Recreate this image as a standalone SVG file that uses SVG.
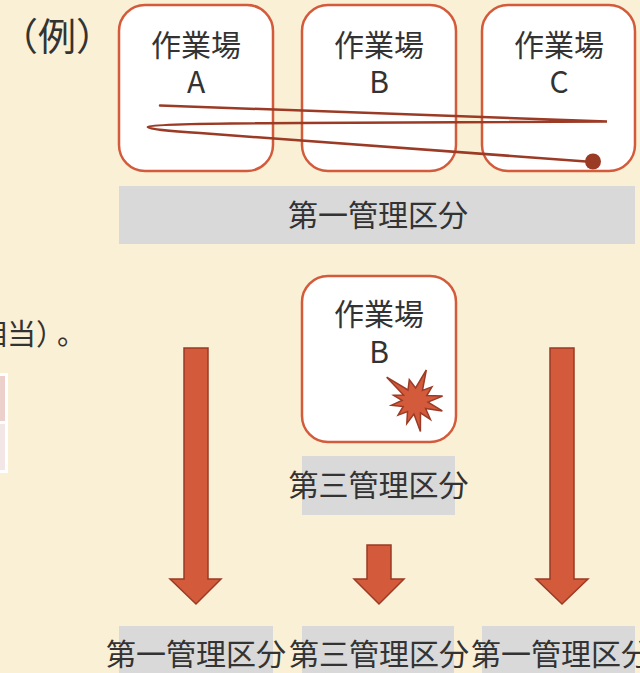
<svg xmlns="http://www.w3.org/2000/svg" width="640" height="673" viewBox="0 0 640 673">
<style>
.bg{fill:#faf0d5}
.node{fill:#ffffff;stroke:#d35a3b;stroke-width:2.5}
.band{fill:#d9d9d9}
.t{font-family:"Noto Sans CJK JP","Noto Sans",sans-serif;font-size:30px;fill:#333333;text-anchor:middle}
.arrow{fill:#d35a3b;stroke:#9b3a25;stroke-width:1.5;stroke-linejoin:miter}
.scribble{fill:none;stroke:#9b3a25;stroke-width:2.5;stroke-linejoin:miter;stroke-linecap:round}
</style>
<rect class="bg" x="0" y="0" width="640" height="673"/>

<g id="left-fragment">
<text class="t" x="-22" y="345" style="text-anchor:start;font-size:29px">相当）<tspan x="57">。</tspan></text>
<rect x="-4" y="373" width="12" height="100" fill="#ffffff"/>
<rect x="-4" y="376" width="9" height="45" fill="#ecd0cc"/>
<rect x="-4" y="424" width="9" height="46" fill="#f2e6e6"/>
</g>

<g id="label-rei"><text class="t" x="57" y="49.5" style="font-size:38px">（例）</text></g>

<g id="node-a">
<rect class="node" x="119" y="5" width="154" height="166" rx="26"/>
<text class="t" x="196" y="56">作業場</text>
<text class="t" x="196" y="93">A</text>
</g>
<g id="node-b">
<rect class="node" x="302" y="5" width="154" height="166" rx="26"/>
<text class="t" x="379" y="56">作業場</text>
<text class="t" x="379" y="93">B</text>
</g>
<g id="node-c">
<rect class="node" x="482" y="5" width="153" height="166" rx="26"/>
<text class="t" x="559" y="56">作業場</text>
<text class="t" x="559" y="93">C</text>
</g>

<g id="band-top">
<rect class="band" x="119" y="186" width="516" height="58"/>
<text class="t" x="378" y="226">第一管理区分</text>
</g>

<g id="node-b2">
<rect class="node" x="302" y="276" width="154" height="166" rx="26"/>
<text class="t" x="379" y="325">作業場</text>
<text class="t" x="379" y="363">B</text>
<polygon class="arrow" points="393.7,395.3 403.5,395 386.7,377.2 408,390 409.3,379.7 415.6,388 426.3,370 422.5,390.4 431.9,386.9 426.8,395.5 442.6,396.1 428,402.1 442.3,410.9 425.6,408.5 430.4,419.4 420.5,412.8 420.4,431.5 413.9,414 406.8,423.6 407.5,411.6 398.1,415.1 403.2,406.5 391.4,405.2 402,400.4"/>
</g>

<g id="band-mid">
<rect class="band" x="302" y="456" width="153" height="59"/>
<text class="t" x="378.5" y="496">第三管理区分</text>
</g>

<g id="bottom-labels">
<g id="label-1">
<rect class="band" x="119" y="626" width="154" height="50"/>
<text class="t" x="196" y="665">第一管理区分</text>
</g>
<g id="label-2">
<rect class="band" x="302" y="626" width="152" height="50"/>
<text class="t" x="379" y="665">第三管理区分</text>
</g>
<g id="label-3">
<rect class="band" x="482" y="626" width="153" height="50"/>
<text class="t" x="561" y="665">第一管理区分</text>
</g>
</g>

<g id="connectors">
<path class="scribble" d="M160,105.5 L607,121.5 L300,123 Q150,123.5 148,127 Q150,130 200,133 L593,162"/>
<circle cx="593" cy="161.5" r="8" fill="#9b3a25"/>
<polygon class="arrow" points="184,348 208,348 208,579 221,579 196,604 170,579 184,579"/>
<polygon class="arrow" points="367,545 391,545 391,579 404,579 379,604 354,579 367,579"/>
<polygon class="arrow" points="550,348 574,348 574,579 588,579 562,604 536,579 550,579"/>
</g>
</svg>
